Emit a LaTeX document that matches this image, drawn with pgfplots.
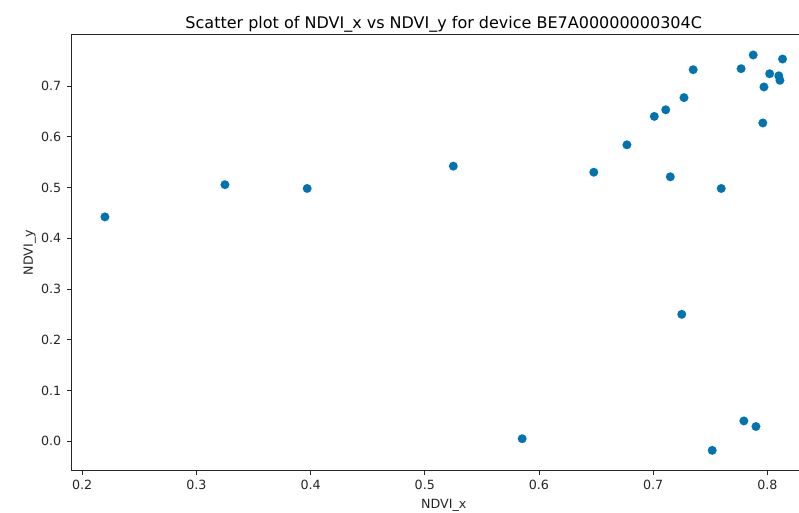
\documentclass[border=0pt]{standalone}
\usepackage{fontspec}
\setmainfont{DejaVu Sans}
\usepackage{pgfplots}
\pgfplotsset{compat=1.18}
\definecolor{dotblue}{HTML}{0173B2}
\definecolor{txt}{HTML}{262626}
\begin{document}
\begin{tikzpicture}
\begin{axis}[
  name=ax,
  scale only axis,
  width=559.1pt, height=327pt,
  xmin=0.1902, xmax=0.8430,
  ymin=-0.058, ymax=0.801,
  xtick={0.2,0.3,0.4,0.5,0.6,0.7,0.8},
  ytick={0,0.1,0.2,0.3,0.4,0.5,0.6,0.7},
  xticklabels={0.2,0.3,0.4,0.5,0.6,0.7,0.8},
  yticklabels={0.0,0.1,0.2,0.3,0.4,0.5,0.6,0.7},
  xtick pos=left, ytick pos=left,
  tick align=outside,
  major tick length=3.3pt,
  every tick/.style={txt, line width=0.6pt},
  axis line style={txt, line width=0.75pt},
  tick label style={font=\fontsize{9.5pt}{11pt}\selectfont, text=txt},
  /pgf/number format/assume math mode=true,
  xticklabel style={yshift=-0.5pt},
  yticklabel style={xshift=-0.5pt},
  title={Scatter plot of NDVI\_x vs NDVI\_y for device BE7A00000000304C},
  every axis title/.style={at={(axis description cs:0.5,1)}, anchor=base, yshift=5pt, font=\fontsize{12pt}{14pt}\selectfont, text=black},
  xlabel={NDVI\_x},
  ylabel={NDVI\_y},
  every axis x label/.style={at={(axis description cs:0.5,0)}, anchor=base, yshift=-28.5pt, font=\fontsize{9.5pt}{11pt}\selectfont, text=txt},
  every axis y label/.style={at={([xshift=-31pt]axis description cs:0,0.5)}, rotate=90, anchor=center, font=\fontsize{9.5pt}{11pt}\selectfont, text=txt},
]
\addplot[only marks, color=dotblue, mark=*, mark size=3.3pt, mark options={fill=dotblue, draw=dotblue, line width=0.01pt}] table {
x y
0.2199 0.442
0.325 0.5055
0.397 0.498
0.525 0.542
0.5853 0.005
0.648 0.530
0.677 0.584
0.701 0.640
0.711 0.653
0.715 0.521
0.725 0.250
0.727 0.677
0.735 0.732
0.7517 -0.018
0.7596 0.498
0.777 0.734
0.7794 0.040
0.7876 0.761
0.790 0.029
0.796 0.627
0.797 0.698
0.802 0.724
0.810 0.720
0.811 0.711
0.8133 0.753
};
\end{axis}
\pgfresetboundingbox
\path[use as bounding box] ([shift={(-53.25pt,-31pt)}]ax.south west) rectangle ([shift={(546pt,26pt)}]ax.north west);
\end{tikzpicture}
\end{document}
